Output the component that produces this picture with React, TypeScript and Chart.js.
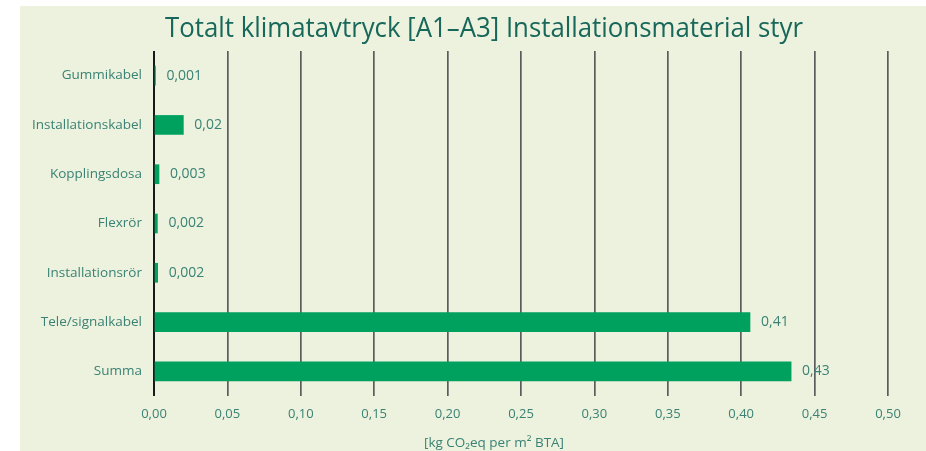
import React, { useEffect, useRef } from 'react';
import { Chart, registerables } from 'chart.js';

Chart.register(...registerables);

const categories = [
  'Gummikabel',
  'Installationskabel',
  'Kopplingsdosa',
  'Flexrör',
  'Installationsrör',
  'Tele/signalkabel',
  'Summa',
];
const values = [0.001, 0.02, 0.0034, 0.0023, 0.0025, 0.406, 0.434];
const valueLabels = ['0,001', '0,02', '0,003', '0,002', '0,002', '0,41', '0,43'];
const xMin = 0;
const xMax = 0.5;
const xStep = 0.05;
const titleText = 'Totalt klimatavtryck [A1–A3] Installationsmaterial styr';
const axisTitleText = '[kg CO₂eq per m² BTA]';

const PANEL = '#ECF2DD';
const BAR = '#00A15F';
const TEXT = '#3a8275';
const TITLE = '#17675a';
const FONT = '"Open Sans", "Noto Sans", sans-serif';

const decorPlugin = {
  id: 'decor',
  beforeDraw(chart: any) {
    const ctx = chart.ctx;
    ctx.save();
    ctx.fillStyle = '#ffffff';
    ctx.fillRect(0, 0, chart.width, chart.height);
    ctx.fillStyle = PANEL;
    ctx.fillRect(20, 6, chart.width - 20, chart.height - 6);
    // title
    ctx.font = `27px ${FONT}`;
    ctx.fillStyle = TITLE;
    ctx.textBaseline = 'alphabetic';
    ctx.textAlign = 'left';
    const w = ctx.measureText(titleText).width;
    const target = 638;
    const sx = target / w;
    ctx.translate(165, 37);
    ctx.scale(sx, 1);
    ctx.fillText(titleText, 0, 0);
    ctx.restore();

    ctx.save();
    ctx.font = `13.5px ${FONT}`;
    ctx.fillStyle = TEXT;
    ctx.textAlign = 'center';
    ctx.textBaseline = 'middle';
    ctx.fillText(axisTitleText, 494, 443);
    ctx.restore();
  },
  afterDatasetsDraw(chart: any) {
    const ctx = chart.ctx;
    const meta = chart.getDatasetMeta(0);
    ctx.save();
    ctx.font = `14px ${FONT}`;
    ctx.fillStyle = TEXT;
    ctx.textAlign = 'left';
    ctx.textBaseline = 'middle';
    meta.data.forEach((bar: any, i: number) => {
      ctx.fillText(valueLabels[i], bar.x + 11, bar.y);
    });
    ctx.restore();
  },
};

export default function App() {
  const ref = useRef<HTMLCanvasElement | null>(null);

  useEffect(() => {
    if (!ref.current) return;
    const chart = new Chart(ref.current, {
      type: 'bar',
      data: {
        labels: categories,
        datasets: [
          {
            data: values,
            backgroundColor: BAR,
            borderWidth: 0,
            barThickness: 19,
          },
        ],
      },
      options: {
        indexAxis: 'y',
        animation: false,
        responsive: false,
        maintainAspectRatio: false,
        layout: { padding: { top: 51, right: 38, left: 0, bottom: 0 } },
        plugins: {
          legend: { display: false },
          title: { display: false },
          tooltip: { enabled: false },
        },
        scales: {
          x: {
            type: 'linear',
            min: xMin,
            max: xMax,
            afterFit: (s: any) => {
              s.height = 55;
            },
            border: { display: false },
            grid: {
              drawTicks: false,
              color: (c: any) => (c.tick && c.tick.value === 0 ? '#1a1a1a' : '#5c5c5c'),
              lineWidth: (c: any) => (c.tick && c.tick.value === 0 ? 2 : 1.7),
            },
            ticks: {
              stepSize: xStep,
              padding: 10,
              color: TEXT,
              font: { family: FONT, size: 13 },
              callback: (v: any) => Number(v).toFixed(2).replace('.', ','),
            },
          },
          y: {
            afterFit: (s: any) => {
              s.width = 154;
            },
            border: { display: false },
            grid: { display: false, drawTicks: false },
            ticks: {
              padding: 12,
              color: TEXT,
              font: { family: FONT, size: 13.5 },
            },
          },
        },
      },
      plugins: [decorPlugin],
    });
    return () => chart.destroy();
  }, []);

  return (
    <div style={{ position: 'absolute', left: 0, top: 0, width: 926, height: 451 }}>
      <canvas ref={ref} width={926} height={451} style={{ width: 926, height: 451, display: 'block' }} />
    </div>
  );
}
